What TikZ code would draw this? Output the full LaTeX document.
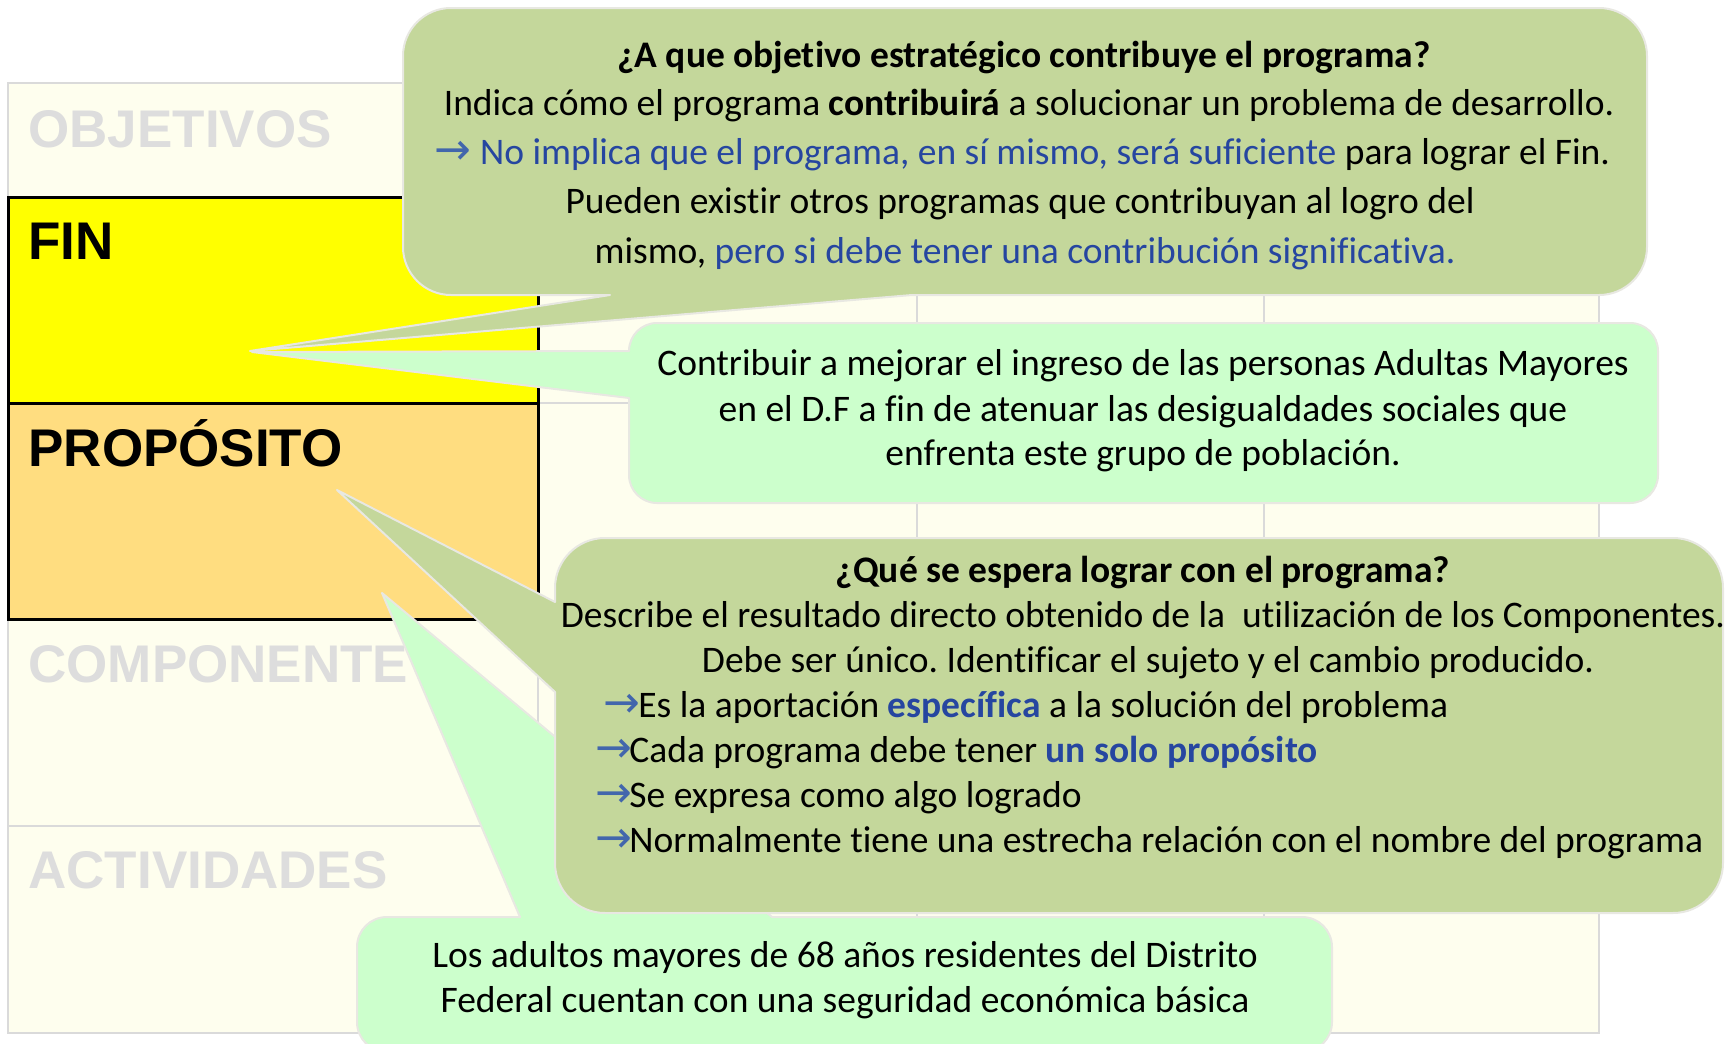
\documentclass[tikz,border=0pt]{standalone}
\usepackage{fontspec}
\setmainfont{Carlito}[Ligatures={NoCommon}]
\newfontfamily\arialf{Liberation Sans}
\newfontfamily\arrowf{DejaVu Sans}
\definecolor{tablefill}{RGB}{254,254,238}
\definecolor{gridc}{RGB}{218,218,218}
\definecolor{finc}{RGB}{255,255,0}
\definecolor{propc}{RGB}{255,221,128}
\definecolor{darkg}{RGB}{196,215,155}
\definecolor{lightg}{RGB}{204,255,204}
\definecolor{outl}{RGB}{232,232,226}
\definecolor{labelg}{RGB}{221,221,221}
\definecolor{txtblue}{RGB}{38,70,160}
\definecolor{arrowblue}{RGB}{66,102,172}
\newcommand{\arwbox}[1]{\makebox[#1][l]{\arrowf\fontsize{22}{22}\selectfont\color{arrowblue}→}}
\frenchspacing
\begin{document}
\begin{tikzpicture}[x=0.5pt,y=-0.5pt,
  lbl/.style={font=\arialf\bfseries\fontsize{26.5}{30}\selectfont, anchor=base west, inner sep=0pt},
  txt/.style={font=\fontsize{18.75}{22}\selectfont, anchor=base, inner sep=0pt},
  txtb/.style={txt, font=\fontsize{18.75}{22}\selectfont\bfseries},
  txtl/.style={txt, anchor=base west},
  gridline/.style={draw=gridc, line width=1pt},
  boxline/.style={draw=black, line width=1.5pt},
  callout/.style={draw=outl, line width=1pt, line join=round}]
\useasboundingbox (0,0) rectangle (1725,1044);
\clip (0,0) rectangle (1725,1044);
\fill[white] (0,0) rectangle (1725,1044);
% table
\fill[tablefill] (8,83) rectangle (1599,1033);
\foreach \yy in {197,403,619,826} \draw[gridline] (8,\yy) -- (1599,\yy);
\foreach \xx in {538,917,1264} \draw[gridline] (\xx,83) -- (\xx,1033);
\draw[gridline] (8,83) rectangle (1599,1033);
\draw[boxline, fill=finc] (8,197) rectangle (538,403);
\draw[boxline, fill=propc] (8,403) rectangle (538,619);
\node[lbl, text=labelg] (lobj) at (28,147) {OBJETIVOS};
\node[lbl, text=black] (lfin) at (28,259) {FIN};
\node[lbl, text=black] (lprop) at (28,466) {PROPÓSITO};
\node[lbl, text=labelg] (lcomp) at (28,682) {COMPONENTE};
\node[lbl, text=labelg] (lact) at (28,888) {ACTIVIDADES};
% callout 4 (bottom, light green)
\path[callout, fill=lightg] (387,917) -- (520,917) -- (382,593) -- (772,917) -- (1302,917)
  .. controls (1318.6,917) and (1332,930.4) .. (1332,947) -- (1332,1022)
  .. controls (1332,1038.6) and (1318.6,1052) .. (1302,1052) -- (387,1052)
  .. controls (370.4,1052) and (357,1038.6) .. (357,1022) -- (357,947)
  .. controls (357,930.4) and (370.4,917) .. (387,917) -- cycle;
% callout 3 (middle, dark green)
\path[callout, fill=darkg] (605,538) -- (1673,538)
  .. controls (1700.6,538) and (1723,560.4) .. (1723,588) -- (1723,863)
  .. controls (1723,890.6) and (1700.6,913) .. (1673,913) -- (605,913)
  .. controls (577.4,913) and (555,890.6) .. (555,863) -- (555,692) -- (337,490) -- (555,602) -- (555,588)
  .. controls (555,560.4) and (577.4,538) .. (605,538) -- cycle;
% callout 1 (top, dark green)
\path[callout, fill=darkg] (451,8) -- (1599,8)
  .. controls (1625.5,8) and (1647,29.5) .. (1647,56) -- (1647,247)
  .. controls (1647,273.5) and (1625.5,295) .. (1599,295) -- (912,295) -- (250,351) -- (610,295) -- (451,295)
  .. controls (424.5,295) and (403,273.5) .. (403,247) -- (403,56)
  .. controls (403,29.5) and (424.5,8) .. (451,8) -- cycle;
% callout 2 (light green)
\path[callout, fill=lightg] (657,323) -- (1630,323)
  .. controls (1645.5,323) and (1658,335.5) .. (1658,351) -- (1658,475)
  .. controls (1658,490.5) and (1645.5,503) .. (1630,503) -- (657,503)
  .. controls (641.5,503) and (629,490.5) .. (629,475) -- (629,398) -- (252,352) -- (629,351)
  .. controls (629,335.5) and (641.5,323) .. (657,323) -- cycle;
% texts callout 1
\node[txtb] (c1a) at (1024,67) {¿A que objetivo estratégico contribuye el programa?};
\node[txt] (c1b) at (1029,115) {Indica cómo el programa \textbf{contribuirá} a solucionar un problema de desarrollo.};
\node[txt] (c1c) at (1022,164) {\arwbox{23pt}\textcolor{txtblue}{No implica que el programa, en sí mismo, será suficiente} para lograr el Fin.};
\node[txt] (c1d) at (1020,213) {Pueden existir otros programas que contribuyan al logro del};
\node[txt] (c1e) at (1025,263) {mismo, \textcolor{txtblue}{pero si debe tener una contribución significativa.}};
% texts callout 2
\node[txt] (c2a) at (1143,375) {Contribuir a mejorar el ingreso de las personas Adultas Mayores};
\node[txt] (c2b) at (1143,421) {en el D.F a fin de atenuar las desigualdades sociales que};
\node[txt] (c2c) at (1143,465) {enfrenta este grupo de población.};
% texts callout 3
\node[txtb] (c3a) at (1143,582) {¿Qué se espera lograr con el programa?};
\node[txt] (c3b) at (1143,627) {Describe el resultado directo obtenido de la\ \ utilización de los Componentes.};
\node[txt] (c3c) at (1148,672) {Debe ser único. Identificar el sujeto y el cambio producido.};
\node[txtl] (c3d) at (603,717) {\arwbox{17.5pt}Es la aportación \textcolor{txtblue}{\textbf{específica}} a la solución del problema};
\node[txtl] (c3e) at (595,762) {\arwbox{17pt}Cada programa debe tener \textcolor{txtblue}{\textbf{un solo propósito}}};
\node[txtl] (c3f) at (595,807) {\arwbox{17pt}Se expresa como algo logrado};
\node[txtl] (c3g) at (595,852) {\arwbox{17pt}Normalmente tiene una estrecha relación con el nombre del programa};
% texts callout 4
\node[txt] (c4a) at (845,967) {Los adultos mayores de 68 años residentes del Distrito};
\node[txt] (c4b) at (845,1012) {Federal cuentan con una seguridad económica básica};
\end{tikzpicture}
\end{document}
